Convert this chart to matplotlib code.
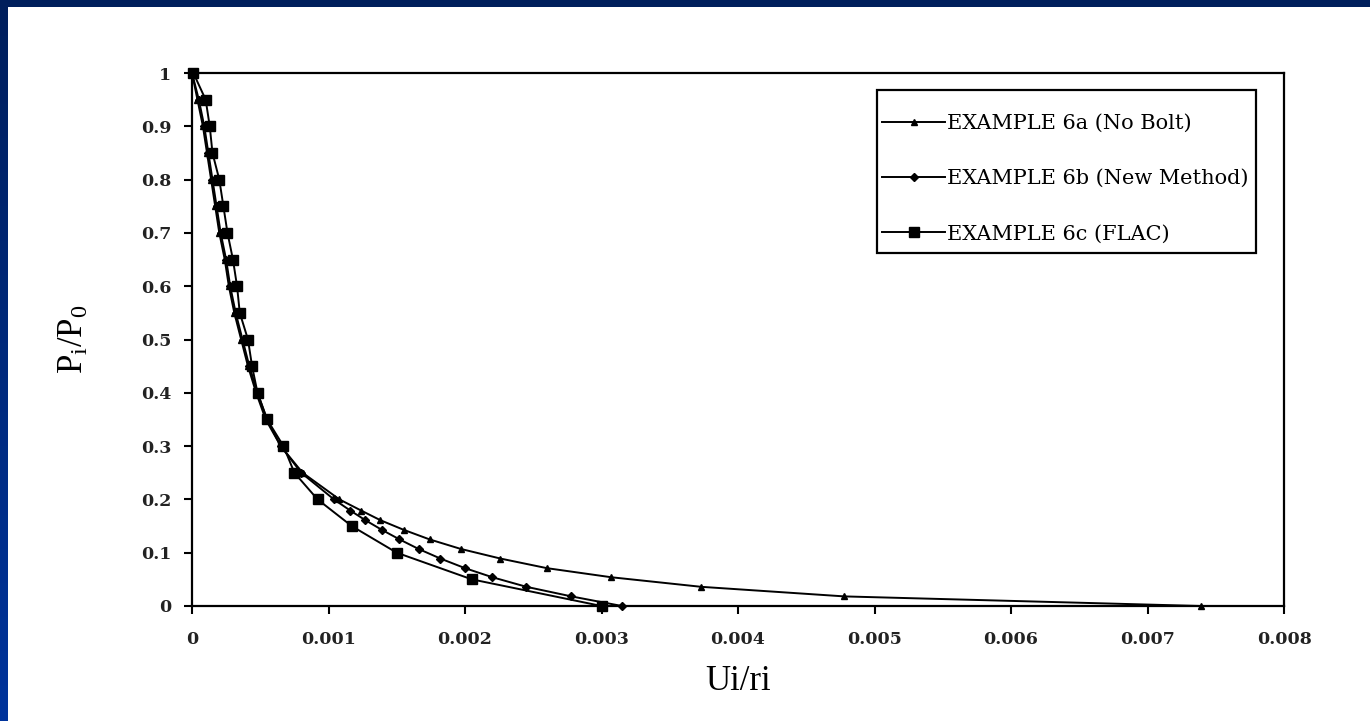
import numpy as np
import matplotlib
matplotlib.use('Agg')
import matplotlib.pyplot as plt
from matplotlib.patches import Rectangle

# ---- data ----
p_a = [1.0, 0.95, 0.9, 0.85, 0.8, 0.75, 0.7, 0.65, 0.6, 0.55, 0.5, 0.45, 0.4, 0.35, 0.3, 0.25, 0.2,
       0.179, 0.161, 0.143, 0.125, 0.107, 0.089, 0.071, 0.054, 0.036, 0.018, 0.0]
u_a = [0.0, 0.00004, 0.00008, 0.00011, 0.00014, 0.00017, 0.0002, 0.00024, 0.00027, 0.00031, 0.00036,
       0.00041, 0.00047, 0.00054, 0.00065, 0.00081, 0.00108,
       0.00124, 0.00138, 0.00155, 0.00174, 0.00197, 0.00226, 0.0026, 0.00307, 0.00373, 0.00478, 0.00739]

p_b = [1.0, 0.95, 0.9, 0.85, 0.8, 0.75, 0.7, 0.65, 0.6, 0.55, 0.5, 0.45, 0.4, 0.35, 0.3, 0.25, 0.2,
       0.179, 0.161, 0.143, 0.125, 0.107, 0.089, 0.071, 0.054, 0.036, 0.018, 0.0]
u_b = [0.0, 0.00005, 0.00009, 0.00012, 0.00015, 0.00018, 0.00021, 0.00025, 0.00028, 0.00032, 0.00037,
       0.00042, 0.00048, 0.00055, 0.00065, 0.0008, 0.00104,
       0.00116, 0.00127, 0.00139, 0.00152, 0.00166, 0.00182, 0.002, 0.0022, 0.00245, 0.00278, 0.00315]

p_c = [1.0, 0.95, 0.9, 0.85, 0.8, 0.75, 0.7, 0.65, 0.6, 0.55, 0.5, 0.45, 0.4, 0.35, 0.3, 0.25, 0.2,
       0.15, 0.1, 0.05, 0.0]
u_c = [0.00001, 0.0001, 0.00013, 0.00015, 0.0002, 0.00023, 0.00026, 0.0003, 0.00033, 0.00035, 0.00041,
       0.00044, 0.00048, 0.00055, 0.00067, 0.00075, 0.00092, 0.00117, 0.0015, 0.00205, 0.003]

labels = ["EXAMPLE 6a (No Bolt)", "EXAMPLE 6b (New Method)", "EXAMPLE 6c (FLAC)"]
x_ticks = [0, 0.001, 0.002, 0.003, 0.004, 0.005, 0.006, 0.007, 0.008]
x_tick_labels = ["0", "0.001", "0.002", "0.003", "0.004", "0.005", "0.006", "0.007", "0.008"]
y_ticks = [0, 0.1, 0.2, 0.3, 0.4, 0.5, 0.6, 0.7, 0.8, 0.9, 1.0]
y_tick_labels = ["0", "0.1", "0.2", "0.3", "0.4", "0.5", "0.6", "0.7", "0.8", "0.9", "1"]

W, H = 1370, 721
plt.rcParams['mathtext.fontset'] = 'custom'
plt.rcParams['mathtext.rm'] = 'Liberation Serif'
plt.rcParams['mathtext.it'] = 'Liberation Serif'

fig = plt.figure(figsize=(W / 100, H / 100), dpi=100)

# background: blue frame with white panel
bg = fig.add_axes([0, 0, 1, 1], zorder=-10)
grad = np.linspace(0, 1, 256).reshape(-1, 1, 1)
top_c = np.array([0x00, 0x1f, 0x5c]) / 255.0
bot_c = np.array([0x00, 0x34, 0x9c]) / 255.0
img = top_c + (bot_c - top_c) * grad
bg.imshow(img, aspect='auto', extent=[0, 1, 0, 1])
bg.add_patch(Rectangle((8 / W, 0), 1, (H - 7) / H, facecolor='white', edgecolor='none',
                       transform=bg.transAxes))
bg.set_xlim(0, 1); bg.set_ylim(0, 1)
bg.axis('off')

ax = fig.add_axes([192 / W, 1 - 606 / H, 1092 / W, 533 / H])
ax.set_facecolor('white')

la, = ax.plot(u_a, p_a, color='black', lw=1.4, marker='^', ms=4.5, clip_on=False, zorder=3)
lb, = ax.plot(u_b, p_b, color='black', lw=1.4, marker='D', ms=4.5, clip_on=False, zorder=3)
lc, = ax.plot(u_c, p_c, color='black', lw=1.4, marker='s', ms=7.5, clip_on=False, zorder=3)

ax.set_xlim(0, 0.008)
ax.set_ylim(0, 1)
ax.set_xticks(x_ticks)
ax.set_xticklabels(x_tick_labels)
ax.set_yticks(y_ticks)
ax.set_yticklabels(y_tick_labels)
for lbl in ax.get_xticklabels() + ax.get_yticklabels():
    lbl.set_fontfamily('DejaVu Serif')
    lbl.set_fontweight('bold')
    lbl.set_fontsize(12.5)
    lbl.set_color('#222222')
ax.tick_params(axis='both', direction='out', length=6, width=1.5, color='black')
ax.tick_params(axis='x', pad=12)
ax.tick_params(axis='y', pad=9)
for s in ax.spines.values():
    s.set_linewidth(1.6)
    s.set_color('black')

ax.set_xlabel('Ui/ri', fontfamily='Liberation Serif', fontsize=25)
ax.xaxis.set_label_coords(0.5, -0.11)
ax.set_ylabel(r'P$_\mathrm{i}$/P$_\mathrm{0}$', fontfamily='Liberation Serif', fontsize=25)
ax.yaxis.set_label_coords(-0.093, 0.5)

# legend frame
def fx(px):
    return (px - 192) / 1092.0
def fy(py):
    return (606 - py) / 533.0

ax.add_patch(Rectangle((fx(877), fy(253)), fx(1256) - fx(877), fy(90) - fy(253),
                       transform=ax.transAxes, facecolor='white', edgecolor='black',
                       lw=1.6, zorder=4))
leg = ax.legend([la, lb, lc], labels, loc='upper left', bbox_to_anchor=(fx(882), fy(114)),
                frameon=False, borderpad=0, borderaxespad=0, handlelength=3.03,
                handletextpad=0.1, labelspacing=1.74,
                prop={'family': 'DejaVu Serif', 'size': 15})
leg.set_zorder(5)

fig.savefig('out.png', dpi=100, facecolor=fig.get_facecolor())
